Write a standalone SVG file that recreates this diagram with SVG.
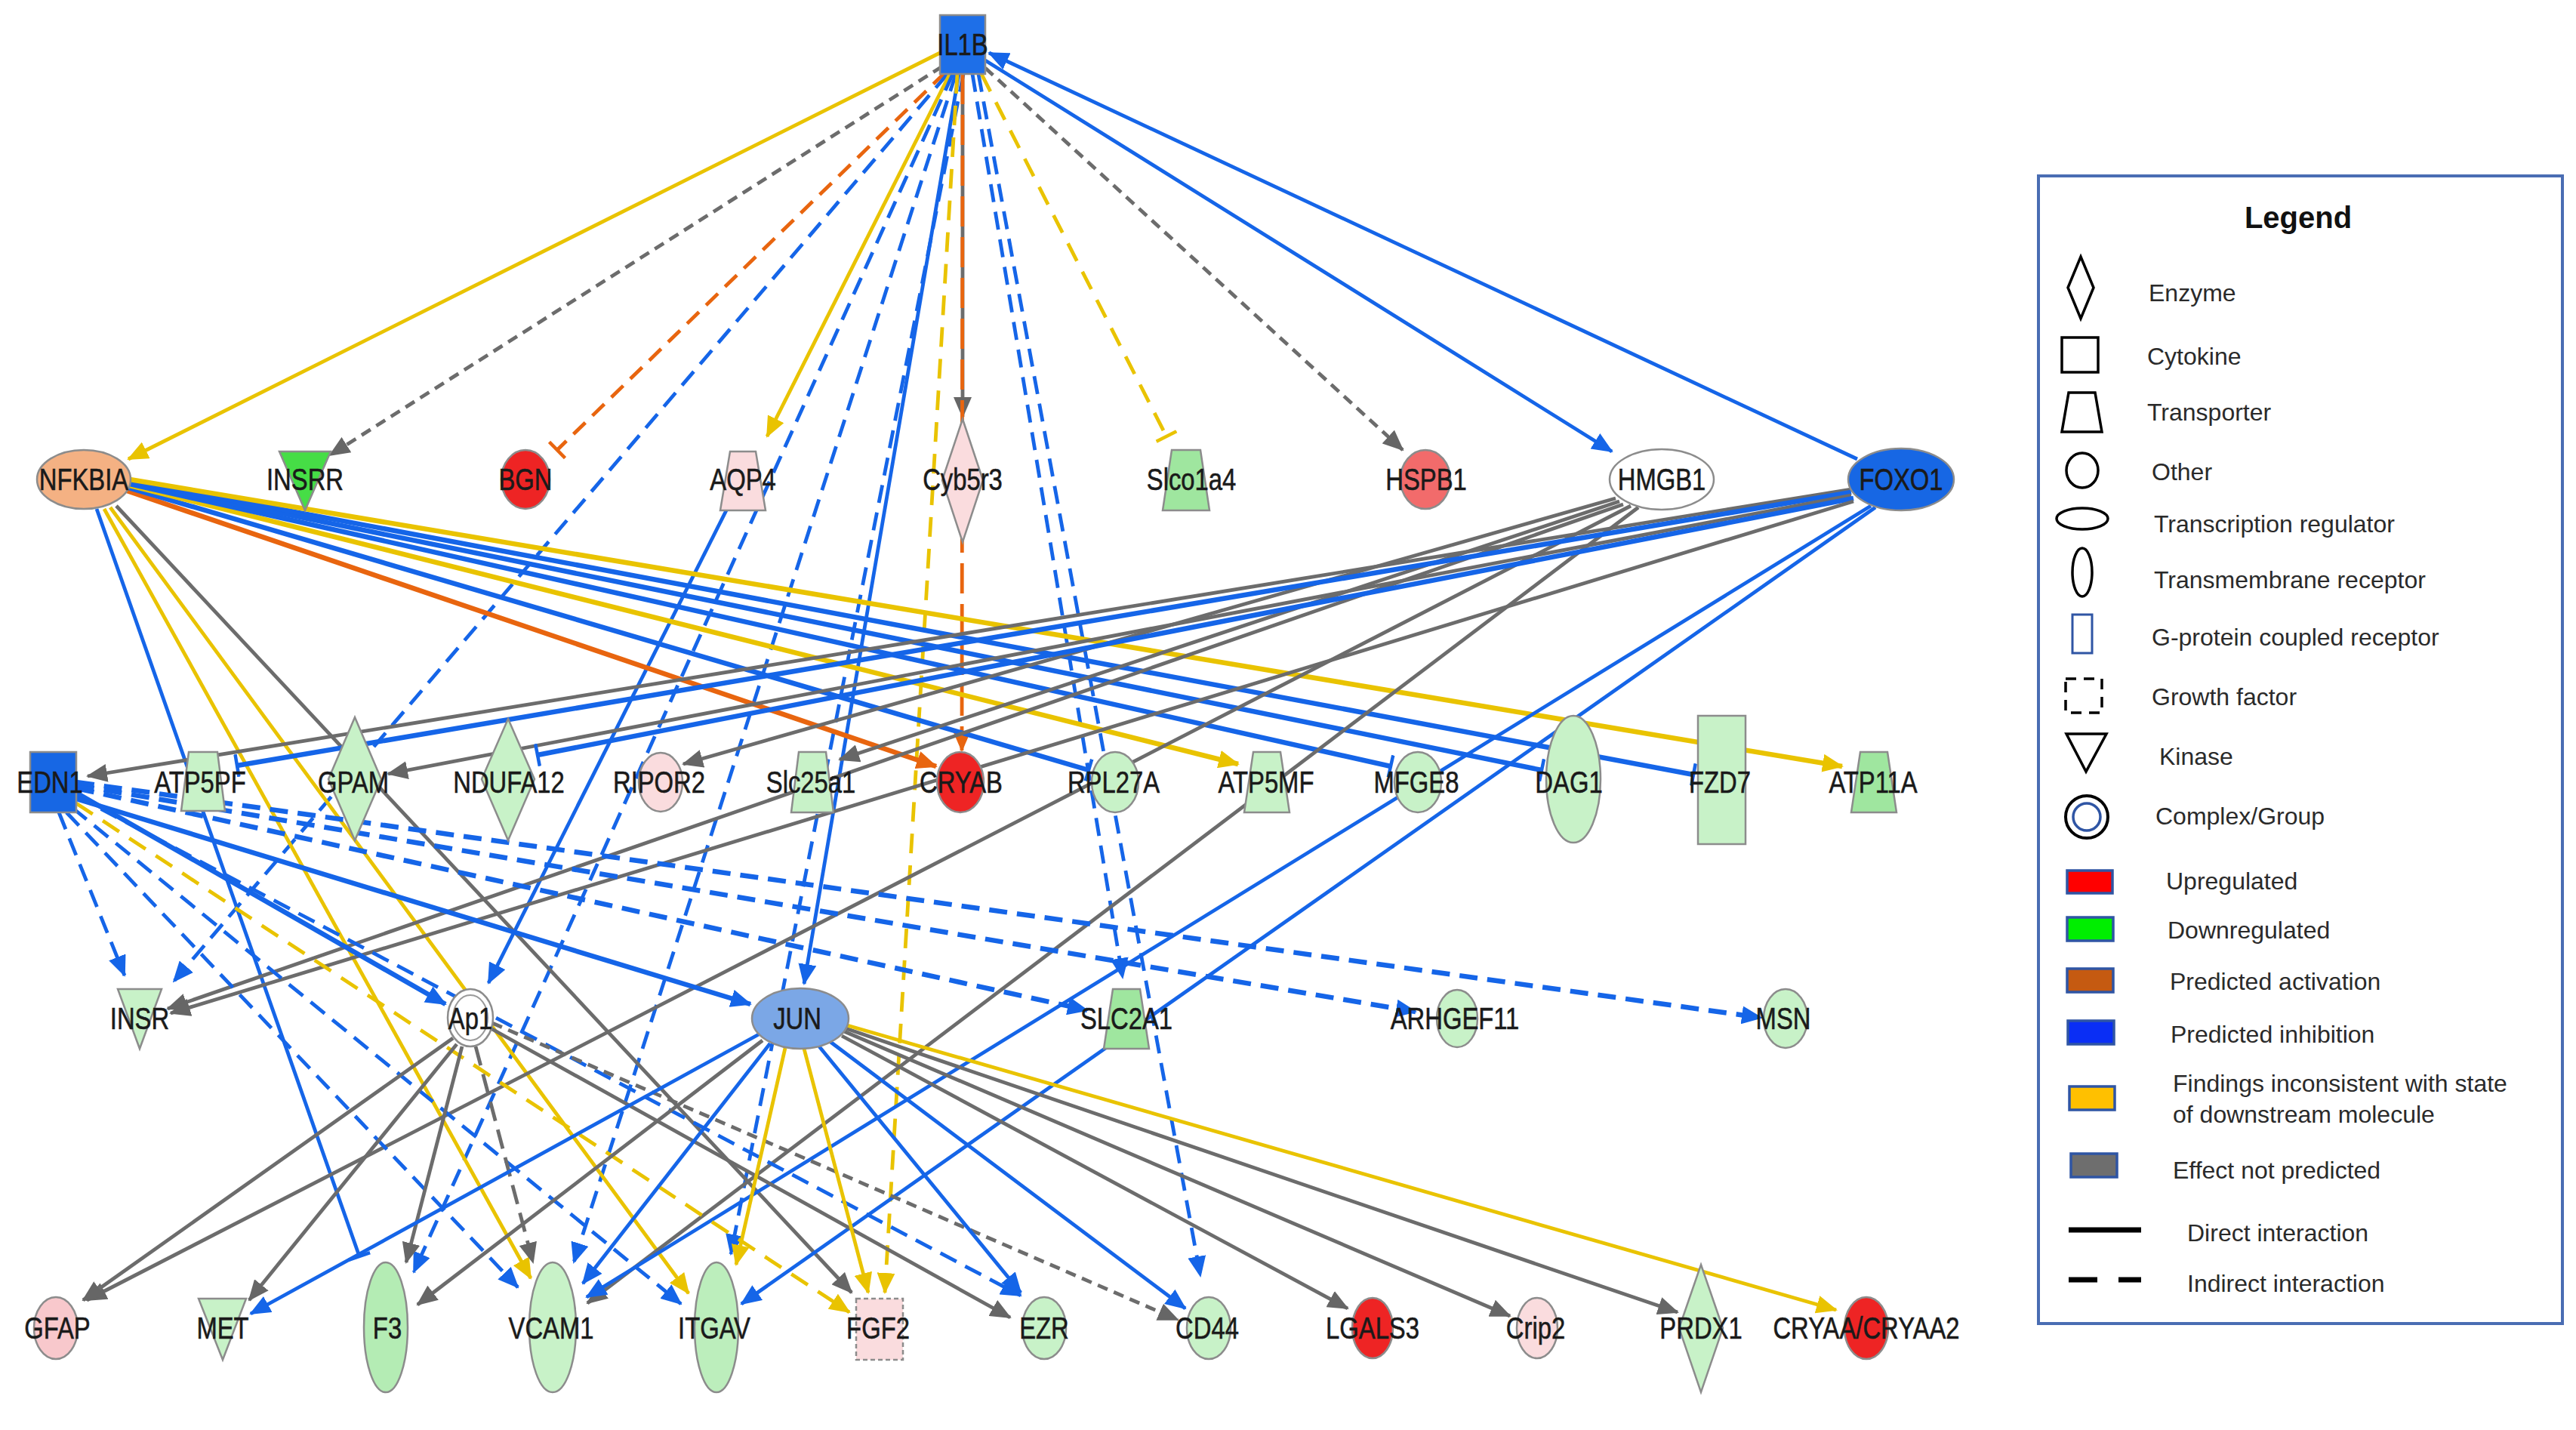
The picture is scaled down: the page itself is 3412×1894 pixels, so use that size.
<svg xmlns="http://www.w3.org/2000/svg" width="3412" height="1894" viewBox="0 0 3412 1894">
<defs>
<style>
.e{fill:none;stroke-width:4.8;stroke-linecap:butt}
.w{stroke-width:6.5}
.b{stroke:#1565E8}.y{stroke:#E9C300}.o{stroke:#E8650F}.g{stroke:#6C6C6C}
.db{stroke-dasharray:24 13}.dy{stroke-dasharray:26 16}.do{stroke-dasharray:22 13}.dg{stroke-dasharray:14 9}
.ab{marker-end:url(#ab)}.ay{marker-end:url(#ay)}.ao{marker-end:url(#ao)}.ag{marker-end:url(#ag)}
.tb{marker-end:url(#tb)}.ty{marker-end:url(#ty)}.to{marker-end:url(#to)}
.n{stroke:#8C8C8C;stroke-width:2.5}
.lg{fill:#FFFFFF}.gr{fill:#C8F2C8}.gm{fill:#9FE69F}.pk{fill:#FADCDE}.rd{fill:#EE2424}
.lb{font-family:"Liberation Sans",Arial,sans-serif;font-size:41px;fill:#1A1A1A;stroke:#1A1A1A;stroke-width:0.6;text-anchor:middle}
.lt{font-family:"Liberation Sans",Arial,sans-serif;font-size:32px;fill:#2A2A2A}
.ls{fill:none;stroke:#000;stroke-width:3.5}
.lc{stroke:#2F55A4;stroke-width:3.5}
</style>
<marker id="ab" viewBox="0 0 28 24" refX="26" refY="12" markerWidth="28" markerHeight="24" markerUnits="userSpaceOnUse" orient="auto"><path d="M0,0 L28,12 L0,24 z" fill="#1565E8"/></marker>
<marker id="ay" viewBox="0 0 28 24" refX="26" refY="12" markerWidth="28" markerHeight="24" markerUnits="userSpaceOnUse" orient="auto"><path d="M0,0 L28,12 L0,24 z" fill="#E9C300"/></marker>
<marker id="ao" viewBox="0 0 28 24" refX="26" refY="12" markerWidth="28" markerHeight="24" markerUnits="userSpaceOnUse" orient="auto"><path d="M0,0 L28,12 L0,24 z" fill="#E8650F"/></marker>
<marker id="ag" viewBox="0 0 28 24" refX="26" refY="12" markerWidth="28" markerHeight="24" markerUnits="userSpaceOnUse" orient="auto"><path d="M0,0 L28,12 L0,24 z" fill="#666666"/></marker>
<marker id="tb" viewBox="-3 -15 6 30" refX="0" refY="0" markerWidth="6" markerHeight="30" markerUnits="userSpaceOnUse" orient="auto"><path d="M0,-15 V15" stroke="#1565E8" stroke-width="4.5"/></marker>
<marker id="ty" viewBox="-3 -15 6 30" refX="0" refY="0" markerWidth="6" markerHeight="30" markerUnits="userSpaceOnUse" orient="auto"><path d="M0,-15 V15" stroke="#E9C300" stroke-width="4.5"/></marker>
<marker id="to" viewBox="-3 -15 6 30" refX="0" refY="0" markerWidth="6" markerHeight="30" markerUnits="userSpaceOnUse" orient="auto"><path d="M0,-15 V15" stroke="#E8650F" stroke-width="4.5"/></marker>
</defs>
<rect width="3412" height="1894" fill="#FFFFFF"/>

<g id="connectors">
<!-- IL1B fan -->
<path class="e y ay" d="M1245,70 L170,608"/>
<path class="e g dg ag" d="M1248,88 L437,603"/>
<path class="e o do to" d="M1252,96 L738,596"/>
<path class="e b db ab" d="M1255,98 L230,1300"/>
<path class="e y ay" d="M1258,98 L1016,578"/>
<path class="e b db ab" d="M1262,98 L548,1685"/>
<path class="e b db ab" d="M1266,98 L760,1672"/>
<path class="e b ab" d="M1270,98 L1065,1303"/>
<path class="e b db ab" d="M1276,98 L968,1661"/>
<path class="e y dy ay" d="M1268,98 L1172,1712"/>
<path class="e g ag" d="M1275,98 L1275,552"/>
<path class="e o ao" style="stroke-dasharray:40 14" d="M1275,98 L1274,994"/>
<path class="e b db ab" d="M1288,98 L1487,1295"/>
<path class="e b db ab" d="M1296,98 L1590,1690"/>
<path class="e y dy ty" d="M1300,98 L1545,578"/>
<path class="e g dg ag" d="M1305,90 L1858,596"/>
<path class="e b ab" d="M1305,80 L2135,598"/>
<path class="e b ab" d="M2460,608 L1310,70"/>
<path class="e b ab" d="M962,676 L647,1302"/>
<!-- NFKBIA -->
<path class="e w o ao" d="M168,650 L1240,1015"/>
<path class="e w b tb" d="M170,646 L1442,1020"/>
<path class="e w y ay" d="M172,643 L1640,1012"/>
<path class="e w b tb" d="M172,641 L1842,1015"/>
<path class="e w b tb" d="M172,639 L2042,1020"/>
<path class="e w b tb" d="M172,637 L2243,1026"/>
<path class="e w y ay" d="M172,635 L2440,1015"/>
<path class="e b tb" d="M128,674 L476,1664"/>
<path class="e y ay" d="M138,674 L703,1693"/>
<path class="e y ay" d="M146,672 L912,1713"/>
<path class="e g ag" d="M154,670 L1128,1712"/>
<!-- HMGB1 / FOXO1 -->
<path class="e g ag" d="M2150,668 L222,1336"/>
<path class="e g ag" d="M2160,670 L115,1722"/>
<path class="e g ag" d="M2170,672 L778,1726"/>
<path class="e g ag" d="M2140,660 L905,1012"/>
<path class="e g ag" d="M2145,664 L1112,1006"/>
<path class="e g ag" d="M2452,648 L116,1028"/>
<path class="e w b tb" d="M2452,652 L314,1014"/>
<path class="e g ag" d="M2452,656 L514,1025"/>
<path class="e w b tb" d="M2455,660 L712,1000"/>
<path class="e g ag" d="M2455,664 L226,1342"/>
<path class="e b ab" d="M2478,670 L777,1718"/>
<path class="e b ab" d="M2484,672 L982,1727"/>
<!-- EDN1 -->
<path class="e b db ab" d="M78,1076 L165,1292"/>
<path class="e w b ab" d="M101,1050 L590,1330"/>
<path class="e b db ab" d="M101,1054 L1352,1716"/>
<path class="e w b ab" d="M101,1058 L994,1330"/>
<path class="e w b db ab" d="M101,1044 L1440,1338"/>
<path class="e w b db ab" d="M101,1040 L1875,1340"/>
<path class="e w b db ab" d="M101,1036 L2333,1348"/>
<path class="e b db ab" d="M88,1076 L686,1705"/>
<path class="e b db ab" d="M96,1070 L902,1727"/>
<path class="e y dy ay" d="M101,1064 L1125,1738"/>
<!-- Ap1 -->
<path class="e g ag" d="M600,1375 L110,1722"/>
<path class="e g ag" d="M605,1383 L330,1722"/>
<path class="e g ag" d="M612,1386 L538,1672"/>
<path class="e g ag" style="stroke-dasharray:26 12" d="M630,1386 L706,1672"/>
<path class="e g ag" d="M650,1362 L1338,1745"/>
<path class="e g dg ag" d="M652,1355 L1560,1748"/>
<!-- JUN -->
<path class="e b ab" d="M1005,1370 L332,1740"/>
<path class="e g ag" d="M1010,1378 L553,1728"/>
<path class="e b ab" d="M1020,1382 L772,1700"/>
<path class="e y ay" d="M1040,1388 L975,1675"/>
<path class="e y ay" d="M1065,1389 L1150,1712"/>
<path class="e b ab" d="M1085,1386 L1352,1712"/>
<path class="e b ab" d="M1100,1380 L1570,1733"/>
<path class="e g ag" d="M1115,1372 L1785,1733"/>
<path class="e g ag" d="M1118,1366 L2000,1743"/>
<path class="e g ag" d="M1120,1362 L2222,1738"/>
<path class="e y ay" d="M1122,1358 L2432,1735"/>
</g>

<g id="node-IL1B"><rect x="1245" y="20" width="60" height="78" fill="#1E6FE8" class="n"/><text class="lb" transform="translate(1275 73) scale(0.8 1)">IL1B</text></g>
<g id="node-NFKBIA"><ellipse cx="111" cy="635" rx="62" ry="39" fill="#F4B183" class="n"/><text class="lb" transform="translate(111 649) scale(0.8 1)">NFKBIA</text></g>
<g id="node-INSRR"><polygon points="370,598 438,598 404,676" fill="#46DD46" class="n"/><text class="lb" transform="translate(404 649) scale(0.8 1)">INSRR</text></g>
<g id="node-BGN"><ellipse cx="696" cy="635" rx="32" ry="39" class="n rd"/><text class="lb" transform="translate(696 649) scale(0.8 1)">BGN</text></g>
<g id="node-AQP4"><polygon points="967,598 1001,598 1014,676 954,676" class="n pk"/><text class="lb" transform="translate(984 649) scale(0.8 1)">AQP4</text></g>
<g id="node-Cyb5r3"><polygon points="1275,555 1302,636 1275,718 1248,636" class="n pk"/><text class="lb" transform="translate(1275 649) scale(0.8 1)">Cyb5r3</text></g>
<g id="node-Slco1a4"><polygon points="1552,596 1590,596 1602,676 1540,676" class="n gm"/><text class="lb" transform="translate(1578 649) scale(0.8 1)">Slco1a4</text></g>
<g id="node-HSPB1"><ellipse cx="1888" cy="635" rx="33" ry="39" fill="#F26B6B" class="n"/><text class="lb" transform="translate(1889 649) scale(0.8 1)">HSPB1</text></g>
<g id="node-HMGB1"><ellipse cx="2201" cy="635" rx="69" ry="40" class="n lg"/><text class="lb" transform="translate(2201 649) scale(0.8 1)">HMGB1</text></g>
<g id="node-FOXO1"><ellipse cx="2518" cy="635" rx="70" ry="41" fill="#1767E4" class="n"/><text class="lb" transform="translate(2518 649) scale(0.8 1)">FOXO1</text></g>

<g id="node-EDN1"><rect x="40" y="996" width="61" height="80" fill="#1767E4" class="n"/><text class="lb" transform="translate(66 1050) scale(0.8 1)">EDN1</text></g>
<g id="node-ATP5PF"><polygon points="250,996 288,996 298,1074 240,1074" class="n gr"/><text class="lb" transform="translate(265 1050) scale(0.8 1)">ATP5PF</text></g>
<g id="node-GPAM"><polygon points="470,950 505,1032 470,1113 435,1032" class="n gr"/><text class="lb" transform="translate(468 1050) scale(0.8 1)">GPAM</text></g>
<g id="node-NDUFA12"><polygon points="673,952 708,1032 673,1113 638,1032" class="n gr"/><text class="lb" transform="translate(674 1050) scale(0.8 1)">NDUFA12</text></g>
<g id="node-RIPOR2"><ellipse cx="875" cy="1036" rx="29" ry="39" class="n pk"/><text class="lb" transform="translate(873 1050) scale(0.8 1)">RIPOR2</text></g>
<g id="node-Slc25a1"><polygon points="1058,996 1094,996 1104,1076 1048,1076" class="n gr"/><text class="lb" transform="translate(1074 1050) scale(0.8 1)">Slc25a1</text></g>
<g id="node-CRYAB"><ellipse cx="1272" cy="1036" rx="31" ry="40" class="n rd"/><text class="lb" transform="translate(1273 1050) scale(0.8 1)">CRYAB</text></g>
<g id="node-RPL27A"><ellipse cx="1477" cy="1036" rx="31" ry="40" class="n gr"/><text class="lb" transform="translate(1475 1050) scale(0.8 1)">RPL27A</text></g>
<g id="node-ATP5MF"><polygon points="1660,996 1696,996 1708,1076 1648,1076" class="n gr"/><text class="lb" transform="translate(1677 1050) scale(0.8 1)">ATP5MF</text></g>
<g id="node-MFGE8"><ellipse cx="1878" cy="1036" rx="31" ry="40" class="n gr"/><text class="lb" transform="translate(1876 1050) scale(0.8 1)">MFGE8</text></g>
<g id="node-DAG1"><ellipse cx="2084" cy="1032" rx="36" ry="84" class="n gr"/><text class="lb" transform="translate(2078 1050) scale(0.8 1)">DAG1</text></g>
<g id="node-FZD7"><rect x="2249" y="948" width="63" height="170" class="n gr"/><text class="lb" transform="translate(2278 1050) scale(0.8 1)">FZD7</text></g>
<g id="node-ATP11A"><polygon points="2464,996 2500,996 2512,1076 2452,1076" class="n gm"/><text class="lb" transform="translate(2481 1050) scale(0.8 1)">ATP11A</text></g>

<g id="node-INSR"><polygon points="156,1310 214,1310 185,1389" class="n gr"/><text class="lb" transform="translate(185 1363) scale(0.8 1)">INSR</text></g>
<g id="node-Ap1"><ellipse cx="623" cy="1348" rx="30" ry="38" class="n lg"/><ellipse cx="623" cy="1348" rx="23" ry="30" fill="none" stroke="#9A9A9A" stroke-width="2"/><text class="lb" transform="translate(623 1363) scale(0.8 1)">Ap1</text></g>
<g id="node-JUN"><ellipse cx="1060" cy="1349" rx="64" ry="40" fill="#7BA7E6" class="n"/><text class="lb" transform="translate(1056 1363) scale(0.8 1)">JUN</text></g>
<g id="node-SLC2A1"><polygon points="1474,1310 1510,1310 1522,1389 1462,1389" class="n gm"/><text class="lb" transform="translate(1492 1363) scale(0.8 1)">SLC2A1</text></g>
<g id="node-ARHGEF11"><ellipse cx="1930" cy="1349" rx="27" ry="38" class="n gr"/><text class="lb" transform="translate(1927 1363) scale(0.8 1)">ARHGEF11</text></g>
<g id="node-MSN"><ellipse cx="2365" cy="1349" rx="29" ry="39" class="n gr"/><text class="lb" transform="translate(2362 1363) scale(0.8 1)">MSN</text></g>

<g id="node-GFAP"><ellipse cx="74" cy="1759" rx="29" ry="41" fill="#F8C8CC" class="n"/><text class="lb" transform="translate(76 1773) scale(0.8 1)">GFAP</text></g>
<g id="node-MET"><polygon points="263,1720 326,1720 295,1801" class="n gr"/><text class="lb" transform="translate(295 1773) scale(0.8 1)">MET</text></g>
<g id="node-F3"><ellipse cx="511" cy="1758" rx="29" ry="86" fill="#B4ECB4" class="n"/><text class="lb" transform="translate(513 1773) scale(0.8 1)">F3</text></g>
<g id="node-VCAM1"><ellipse cx="732" cy="1758" rx="31" ry="86" class="n gr"/><text class="lb" transform="translate(730 1773) scale(0.8 1)">VCAM1</text></g>
<g id="node-ITGAV"><ellipse cx="949" cy="1758" rx="29" ry="86" fill="#BCEEBC" class="n"/><text class="lb" transform="translate(946 1773) scale(0.8 1)">ITGAV</text></g>
<g id="node-FGF2"><rect x="1134" y="1720" width="62" height="81" class="pk" stroke="#8C8C8C" stroke-width="2.5" stroke-dasharray="6 4"/><text class="lb" transform="translate(1163 1773) scale(0.8 1)">FGF2</text></g>
<g id="node-EZR"><ellipse cx="1383" cy="1759" rx="29" ry="41" class="n gr"/><text class="lb" transform="translate(1383 1773) scale(0.8 1)">EZR</text></g>
<g id="node-CD44"><ellipse cx="1601" cy="1759" rx="29" ry="41" class="n gr"/><text class="lb" transform="translate(1599 1773) scale(0.8 1)">CD44</text></g>
<g id="node-LGALS3"><ellipse cx="1818" cy="1759" rx="27" ry="40" class="n rd"/><text class="lb" transform="translate(1818 1773) scale(0.8 1)">LGALS3</text></g>
<g id="node-Crip2"><ellipse cx="2036" cy="1759" rx="27" ry="40" class="n pk"/><text class="lb" transform="translate(2034 1773) scale(0.8 1)">Crip2</text></g>
<g id="node-PRDX1"><polygon points="2253,1675 2282,1759 2253,1844 2224,1759" class="n gr"/><text class="lb" transform="translate(2253 1773) scale(0.8 1)">PRDX1</text></g>
<g id="node-CRYAA"><ellipse cx="2472" cy="1759" rx="29" ry="41" class="n rd"/><text class="lb" transform="translate(2472 1773) scale(0.8 1)">CRYAA/CRYAA2</text></g>

<g id="legend">
<rect x="2700" y="233" width="694" height="1520" fill="#FFFFFF" stroke="#4A6DB3" stroke-width="4"/>
<text x="3044" y="302" font-family="Liberation Sans,Arial,sans-serif" font-size="40" font-weight="bold" fill="#111" text-anchor="middle">Legend</text>
<polygon class="ls" points="2756,340 2773,381 2756,422 2739,381"/>
<text class="lt" x="2846" y="399">Enzyme</text>
<rect class="ls" x="2731" y="447" width="48" height="46"/>
<text class="lt" x="2844" y="483">Cytokine</text>
<polygon class="ls" points="2740,520 2775,520 2784,572 2731,572"/>
<text class="lt" x="2844" y="557">Transporter</text>
<ellipse class="ls" cx="2758" cy="623" rx="21" ry="23"/>
<text class="lt" x="2850" y="636">Other</text>
<ellipse class="ls" cx="2758" cy="687" rx="34" ry="14"/>
<text class="lt" x="2853" y="705">Transcription regulator</text>
<ellipse class="ls" cx="2758" cy="758" rx="13" ry="32"/>
<text class="lt" x="2853" y="779">Transmembrane receptor</text>
<rect x="2745" y="814" width="26" height="51" fill="none" stroke="#2F55A4" stroke-width="3"/>
<text class="lt" x="2850" y="855">G-protein coupled receptor</text>
<rect class="ls" x="2736" y="899" width="48" height="45" stroke-dasharray="14 10"/>
<text class="lt" x="2850" y="934">Growth factor</text>
<polygon class="ls" points="2737,972 2790,972 2763,1022"/>
<text class="lt" x="2860" y="1013">Kinase</text>
<circle cx="2764" cy="1082" r="28" fill="none" stroke="#000" stroke-width="4"/>
<circle cx="2764" cy="1082" r="18" fill="none" stroke="#2F55A4" stroke-width="3.5"/>
<text class="lt" x="2855" y="1092">Complex/Group</text>
<rect class="lc" x="2738" y="1153" width="60" height="30" fill="#FF0000"/>
<text class="lt" x="2869" y="1178">Upregulated</text>
<rect class="lc" x="2738" y="1215" width="61" height="31" fill="#00EE00"/>
<text class="lt" x="2871" y="1243">Downregulated</text>
<rect class="lc" x="2738" y="1283" width="61" height="31" fill="#C55A11"/>
<text class="lt" x="2874" y="1311">Predicted activation</text>
<rect class="lc" x="2739" y="1352" width="61" height="31" fill="#0A2EF5"/>
<text class="lt" x="2875" y="1381">Predicted inhibition</text>
<rect class="lc" x="2741" y="1439" width="60" height="31" fill="#FFC000"/>
<text class="lt" x="2878" y="1446">Findings inconsistent with state</text>
<text class="lt" x="2878" y="1487">of downstream molecule</text>
<rect class="lc" x="2743" y="1528" width="61" height="31" fill="#6E6E6E"/>
<text class="lt" x="2878" y="1561">Effect not predicted</text>
<line x1="2740" y1="1629" x2="2836" y2="1629" stroke="#000" stroke-width="7"/>
<text class="lt" x="2897" y="1644">Direct interaction</text>
<line x1="2740" y1="1695" x2="2778" y2="1695" stroke="#000" stroke-width="7"/>
<line x1="2806" y1="1695" x2="2836" y2="1695" stroke="#000" stroke-width="7"/>
<text class="lt" x="2897" y="1711">Indirect interaction</text>
</g>
</svg>
